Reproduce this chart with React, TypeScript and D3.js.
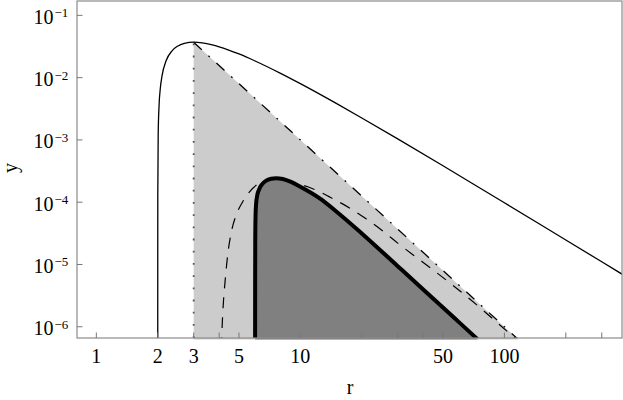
import * as d3 from "d3";

type Pt = [number, number];

// r ticks: labelled and unlabelled
const xTickLabels = [1, 2, 3, 5, 10, 50, 100];
const xMinorTicks = [4, 20, 30, 40, 200, 300];
const yTickExps = [-1, -2, -3, -4, -5, -6];

// thin solid curve (peaks at r = 3)
const solidCurve: Pt[] = [
  [2.0, 3e-7], [2.00001, 1.25e-6], [2.0001, 1.25e-5], [2.001, 1.248e-4],
  [2.01, 1.2315e-3], [2.03, 3.586e-3], [2.06, 6.864e-3], [2.1, 0.010798],
  [2.2, 0.018783], [2.35, 0.026969], [2.5, 0.032], [2.7, 0.035564],
  [3, 0.037037], [3.3, 0.036175], [3.7, 0.033562], [4, 0.03125],
  [5, 0.024], [6, 0.018519], [8, 0.011719], [10, 0.008],
  [15, 0.0038519], [20, 0.00225], [30, 1.037e-3], [50, 3.84e-4],
  [70, 1.9825e-4], [100, 9.8e-5], [150, 4.385e-5], [200, 2.475e-5],
  [300, 1.1037e-5], [400, 6.219e-6],
];

// dash-dot boundary of the light region
const fanLine: Pt[] = [[3, 0.037037], [125, 5.12e-7]];

// dotted vertical at r = 3
const dottedLine: Pt[] = [[3, 6.6e-7], [3, 0.037037]];

// dashed curve (starts near r = 4)
const dashedCurve: Pt[] = [
  [4.1, 4.5e-7], [4.146, 1.2e-6], [4.2, 2.6e-6], [4.275, 5.3e-6],
  [4.4, 1.4e-5], [4.57, 3.1e-5], [4.88, 6.6e-5], [5.2, 1.0e-4],
  [5.5, 1.33e-4], [6.2, 1.95e-4], [7, 2.17e-4], [8, 2.15e-4],
  [9, 2.03e-4], [10.2, 1.88e-4], [12, 1.55e-4], [14, 1.2e-4],
  [17.5, 8.0e-5], [21, 5.4e-5], [25.5, 3.4e-5], [30, 2.2e-5],
  [40, 1.08e-5], [57, 4.4e-6], [75, 2.1e-6], [95, 1.07e-6],
  [110, 7.0e-7], [118, 5.7e-7],
];

// thick curve (starts at r = 6)
const thickCurve: Pt[] = [
  [6.0, 4e-7], [6.003, 5e-6], [6.01, 2.5e-5], [6.03, 6e-5],
  [6.07, 9.5e-5], [6.15, 1.3e-4], [6.3, 1.65e-4], [6.5, 1.95e-4],
  [6.8, 2.22e-4], [7.2, 2.38e-4], [7.6, 2.43e-4], [8.2, 2.36e-4],
  [9, 2.12e-4], [10, 1.77e-4], [12.5, 1.14e-4], [15, 7.1e-5],
  [20, 3.15e-5], [30, 9.4e-6], [40, 3.98e-6], [55, 1.53e-6],
  [72, 6.8e-7], [75, 6.0e-7],
];

const W = 623;
const H = 400;
const left = 77;
const right = 622;
const top = 1;
const bottom = 338;
const font = "'Liberation Serif', 'Times New Roman', serif";

export default function App() {
  const x = d3.scaleLog().domain([0.804, 377]).range([left, right]);
  const y = d3.scaleLog().domain([6.6e-7, 0.17]).range([bottom, top]);

  const line = d3
    .line<Pt>()
    .x((d) => x(d[0]))
    .y((d) => y(d[1]))
    .curve(d3.curveMonotoneX);

  const yLow = 3e-7;
  const lightArea: Pt[] = [
    [fanLine[0][0], yLow],
    ...fanLine,
    [fanLine[fanLine.length - 1][0], yLow],
  ];
  const lightPath = d3
    .line<Pt>()
    .x((d) => x(d[0]))
    .y((d) => y(d[1]))(lightArea) + "Z";

  const darkArea = d3
    .area<Pt>()
    .x((d) => x(d[0]))
    .y0(y(yLow))
    .y1((d) => y(d[1]))
    .curve(d3.curveMonotoneX)(thickCurve);

  const xTicks = [...xTickLabels, ...xMinorTicks];

  return (
    <svg
      width={W}
      height={H}
      style={{ position: "absolute", left: 0, top: 0, background: "#fff" }}
      fontFamily={font}
    >
      <defs>
        <clipPath id="plotClip">
          <rect x={left} y={top} width={right - left} height={bottom - top} />
        </clipPath>
        <clipPath id="fillClip">
          <rect x={left} y={top} width={right - left} height={bottom - top + 1.5} />
        </clipPath>
      </defs>

      <path d={lightPath} fill="#cccccc" clipPath="url(#fillClip)" />

      <g clipPath="url(#plotClip)" fill="none">
        <path d={line(dashedCurve) ?? ""} stroke="#000" strokeWidth={1.2} strokeDasharray="11 9" />
        <path d={line(fanLine) ?? ""} stroke="#000" strokeWidth={1.3} strokeDasharray="11 9 1.8 9" />
        <path d={line(dottedLine) ?? ""} stroke="#555" strokeWidth={1.8} strokeDasharray="1.8 10.4" />
      </g>

      <path d={darkArea ?? ""} fill="#808080" clipPath="url(#fillClip)" />

      <g clipPath="url(#plotClip)" fill="none">
        <path d={line(thickCurve) ?? ""} stroke="#000" strokeWidth={4} strokeLinejoin="round" />
        <path d={line(solidCurve) ?? ""} stroke="#000" strokeWidth={1.3} />
      </g>

      <rect
        x={left}
        y={top}
        width={right - left}
        height={bottom - top}
        fill="none"
        stroke="#8a8a8a"
        strokeWidth={1.2}
      />

      {xTicks.map((t) => (
        <line key={`xt${t}`} x1={x(t)} x2={x(t)} y1={bottom} y2={bottom - 5.5} stroke="#777" strokeWidth={1} />
      ))}
      {yTickExps.map((e) => (
        <line key={`yt${e}`} x1={left} x2={left + 5.5} y1={y(10 ** e)} y2={y(10 ** e)} stroke="#777" strokeWidth={1} />
      ))}

      {xTickLabels.map((t) => (
        <text key={`xl${t}`} x={x(t)} y={363} textAnchor="middle" fontSize={20} fill="#000">
          {t}
        </text>
      ))}

      {yTickExps.map((e) => (
        <g key={`yl${e}`}>
          <text x={53.5} y={y(10 ** e) + 8.5} textAnchor="end" fontSize={20} fill="#000">
            10
          </text>
          <text x={54.5} y={y(10 ** e) + 2} fontSize={13} fill="#000">
            {"\u2212" + Math.abs(e)}
          </text>
        </g>
      ))}

      <text x={350} y={394} textAnchor="middle" fontSize={20} fill="#000">
        r
      </text>
      <text
        transform="translate(16.5,168) rotate(-90)"
        textAnchor="middle"
        fontSize={20}
        fill="#000"
      >
        y
      </text>
    </svg>
  );
}
